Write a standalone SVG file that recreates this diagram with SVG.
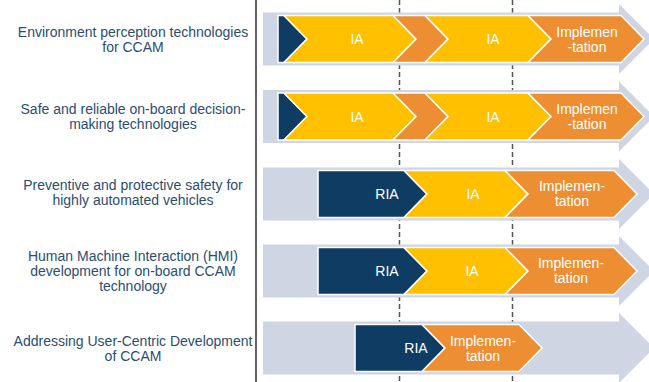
<svg xmlns="http://www.w3.org/2000/svg" width="649" height="382" viewBox="0 0 649 382">
<style>
.lbl{font-family:"Liberation Sans",Arial,sans-serif;font-size:14px;fill:#2b4d72;text-anchor:middle}
.ct{font-family:"Liberation Sans",Arial,sans-serif;font-size:14px;fill:#ffffff;text-anchor:middle}
.band{fill:#cfd5e2}
.navy{fill:#0f3c63;stroke:#ffffff;stroke-width:1.5;stroke-linejoin:miter}
.yel{fill:#ffc000;stroke:#ffffff;stroke-width:1.5;stroke-linejoin:miter}
.org{fill:#ed8e33;stroke:#ffffff;stroke-width:1.5;stroke-linejoin:miter}
.dash{stroke:#555555;stroke-width:1.5;stroke-dasharray:5 3;fill:none}
</style>
<rect width="649" height="382" fill="#ffffff"/>
<g id="guides">
<line class="dash" x1="399.5" y1="0" x2="399.5" y2="382"/>
<line class="dash" x1="512.5" y1="0" x2="512.5" y2="382"/>
<line x1="256" y1="0" x2="256" y2="382" stroke="#3a3a3a" stroke-width="1.6"/>
</g>
<g id="row1">
<text class="lbl" x="133" y="37">Environment perception technologies</text>
<text class="lbl" x="133" y="52">for CCAM</text>
<polygon class="band" points="263,12.5 619,12.5 619,4 654,39 619,74 619,65.5 263,65.5"/>
<polygon class="navy" points="278,15.5 284,15.5 307,39 284,62.5 278,62.5"/>
<polygon class="yel" points="284,15.5 393,15.5 416,39 393,62.5 284,62.5 307,39"/>
<polygon class="org" points="393,15.5 425,15.5 448,39 425,62.5 393,62.5 416,39"/>
<polygon class="yel" points="425,15.5 528,15.5 551,39 528,62.5 425,62.5 448,39"/>
<polygon class="org" points="528,15.5 621,15.5 644,39 621,62.5 528,62.5 551,39"/>
<text class="ct" x="357" y="44">IA</text>
<text class="ct" x="493" y="44">IA</text>
<text class="ct" x="587" y="36.5">Implemen</text>
<text class="ct" x="587" y="51.5">-tation</text>
</g>
<g id="row2">
<text class="lbl" x="133" y="114">Safe and reliable on-board decision-</text>
<text class="lbl" x="133" y="129">making technologies</text>
<polygon class="band" points="263,90 619,90 619,81.5 654,116.5 619,151.5 619,143 263,143"/>
<polygon class="navy" points="278,93 284,93 307,116.5 284,140 278,140"/>
<polygon class="yel" points="284,93 393,93 416,116.5 393,140 284,140 307,116.5"/>
<polygon class="org" points="393,93 425,93 448,116.5 425,140 393,140 416,116.5"/>
<polygon class="yel" points="425,93 528,93 551,116.5 528,140 425,140 448,116.5"/>
<polygon class="org" points="528,93 621,93 644,116.5 621,140 528,140 551,116.5"/>
<text class="ct" x="357" y="121.5">IA</text>
<text class="ct" x="493" y="121.5">IA</text>
<text class="ct" x="587" y="114">Implemen</text>
<text class="ct" x="587" y="129">-tation</text>
</g>
<g id="row3">
<text class="lbl" x="133" y="190">Preventive and protective safety for</text>
<text class="lbl" x="133" y="205">highly automated vehicles</text>
<polygon class="band" points="263,167.5 619,167.5 619,159 654,194 619,229 619,220.5 263,220.5"/>
<polygon class="navy" points="318,170.5 404,170.5 427,194 404,217.5 318,217.5"/>
<polygon class="yel" points="404,170.5 505,170.5 528,194 505,217.5 404,217.5 427,194"/>
<polygon class="org" points="505,170.5 614,170.5 637,194 614,217.5 505,217.5 528,194"/>
<text class="ct" x="387" y="199">RIA</text>
<text class="ct" x="473" y="199">IA</text>
<text class="ct" x="572" y="190.5">Implemen-</text>
<text class="ct" x="572" y="205.5">tation</text>
</g>
<g id="row4">
<text class="lbl" x="133" y="261">Human Machine Interaction (HMI)</text>
<text class="lbl" x="133" y="276">development for on-board CCAM</text>
<text class="lbl" x="133" y="291">technology</text>
<polygon class="band" points="263,244.5 619,244.5 619,236 654,271 619,306 619,297.5 263,297.5"/>
<polygon class="navy" points="318,247.5 404,247.5 427,271 404,294.5 318,294.5"/>
<polygon class="yel" points="404,247.5 505,247.5 528,271 505,294.5 404,294.5 427,271"/>
<polygon class="org" points="505,247.5 614,247.5 637,271 614,294.5 505,294.5 528,271"/>
<text class="ct" x="387" y="276">RIA</text>
<text class="ct" x="472" y="276">IA</text>
<text class="ct" x="571" y="267.5">Implemen-</text>
<text class="ct" x="571" y="282.5">tation</text>
</g>
<g id="row5">
<text class="lbl" x="133" y="346">Addressing User-Centric Development</text>
<text class="lbl" x="133" y="361">of CCAM</text>
<polygon class="band" points="263,321.5 619,321.5 619,313 654,348 619,383 619,374.5 263,374.5"/>
<polygon class="navy" points="355,324.5 422,324.5 445,348 422,371.5 355,371.5"/>
<polygon class="org" points="422,324.5 519,324.5 542,348 519,371.5 422,371.5 445,348"/>
<text class="ct" x="416" y="353">RIA</text>
<text class="ct" x="483" y="345.5">Implemen-</text>
<text class="ct" x="483" y="360.5">tation</text>
</g>
</svg>
